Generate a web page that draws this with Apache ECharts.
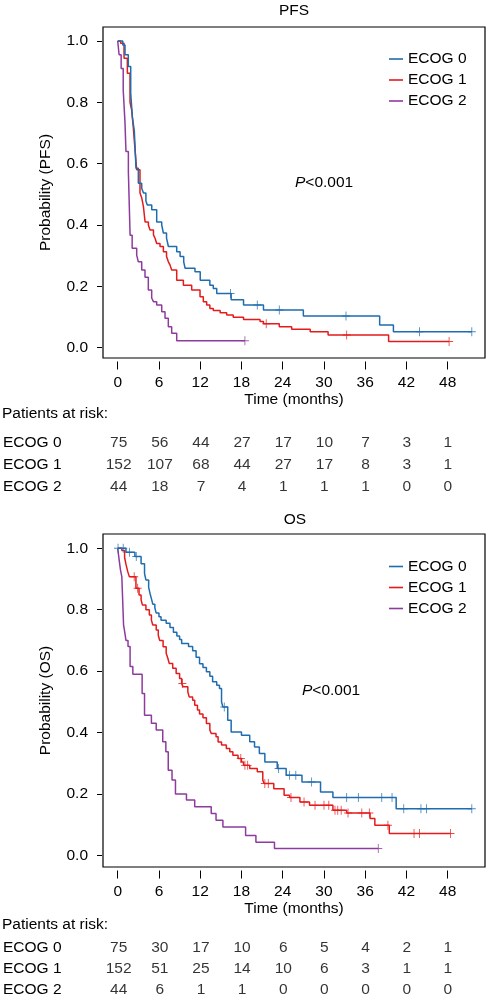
<!DOCTYPE html>
<html><head><meta charset="utf-8">
<script src="https://cdn.jsdelivr.net/npm/echarts@6/dist/echarts.min.js"></script>
<style>html,body{margin:0;padding:0;background:#fff}#c{width:488px;height:1000px}</style>
</head><body><div id="c"></div>
<script>
// ---------- data ----------
const groups = ['ECOG 0', 'ECOG 1', 'ECOG 2'];
const timeTicks = [0, 6, 12, 18, 24, 30, 36, 42, 48];
const probTicks = [0, 0.2, 0.4, 0.6, 0.8, 1.0];

// PFS Kaplan-Meier steps [time (months), survival]
const pfsEcog0 = [[0,1],[0.73,0.987],[1.06,0.955],[1.54,0.917],[1.89,0.83],[2.13,0.753],[2.42,0.705],[2.66,0.585],[3.0,0.536],[3.49,0.52],[3.75,0.504],[4.1,0.478],[4.3,0.465],[4.95,0.45],[5.67,0.41],[6.4,0.40],[6.64,0.374],[7.1,0.357],[7.37,0.33],[8.58,0.313],[9.07,0.297],[9.6,0.28],[9.8,0.259],[11.24,0.248],[12.0,0.22],[13.4,0.204],[13.9,0.193],[14.4,0.177],[16.5,0.156],[18.3,0.139],[21.2,0.123],[27.0,0.103],[38.1,0.074],[40.1,0.052],[51.5,0.052]];
const pfsEcog1 = [[0,1],[0.43,0.993],[0.92,0.944],[1.4,0.895],[1.79,0.80],[2.03,0.775],[2.27,0.717],[2.52,0.645],[2.76,0.58],[3.24,0.504],[3.5,0.488],[3.74,0.46],[3.98,0.41],[4.46,0.40],[4.7,0.384],[5.2,0.368],[5.43,0.357],[5.67,0.34],[6.15,0.33],[6.64,0.313],[7.1,0.297],[7.37,0.28],[7.6,0.27],[7.85,0.253],[8.58,0.22],[9.55,0.204],[10.76,0.188],[11.97,0.166],[12.45,0.15],[12.94,0.139],[13.4,0.128],[13.9,0.121],[14.9,0.114],[15.85,0.107],[16.8,0.099],[18.3,0.092],[20.7,0.085],[21.2,0.078],[23.5,0.068],[25.3,0.06],[28.0,0.052],[30.6,0.041],[39.4,0.02],[48.2,0.02]];
const pfsEcog2 = [[0,1],[0.2,0.955],[0.5,0.91],[0.8,0.84],[1.06,0.733],[1.2,0.64],[1.55,0.574],[1.8,0.367],[2.1,0.324],[2.76,0.302],[3.0,0.28],[3.49,0.253],[3.97,0.23],[4.45,0.188],[4.94,0.162],[5.2,0.15],[5.67,0.139],[6.4,0.117],[6.88,0.096],[7.36,0.068],[7.85,0.047],[8.58,0.023],[18.5,0.023]];
const pfsCensor0 = [16.4, 20.3, 23.5, 33.2, 43.9, 51.5];
const pfsCensor1 = [21.6, 33.3, 48.2];
const pfsCensor2 = [18.5];

// OS Kaplan-Meier steps
const osEcog0 = [[0,1],[1.2,0.987],[2.5,0.973],[3.4,0.95],[3.9,0.918],[4.1,0.897],[4.5,0.873],[4.7,0.853],[4.9,0.836],[5.1,0.818],[5.4,0.806],[5.6,0.789],[6.0,0.777],[6.3,0.766],[7.05,0.756],[7.6,0.742],[8.1,0.727],[8.6,0.714],[9.0,0.703],[9.3,0.69],[10.3,0.68],[10.9,0.666],[11.4,0.645],[11.9,0.624],[12.4,0.612],[12.9,0.598],[13.4,0.583],[13.8,0.565],[14.4,0.554],[14.8,0.543],[15.1,0.50],[15.3,0.483],[16.0,0.44],[16.5,0.402],[18.0,0.391],[19.2,0.37],[19.9,0.353],[20.6,0.332],[21.4,0.304],[23.2,0.283],[24.5,0.261],[26.8,0.239],[29.5,0.206],[31.3,0.188],[40.5,0.152],[51.5,0.152]];
const osEcog1 = [[0,1],[0.6,0.993],[1.0,0.97],[1.22,0.946],[1.46,0.924],[1.7,0.907],[2.65,0.87],[3.1,0.848],[3.4,0.832],[3.6,0.815],[4.1,0.80],[4.6,0.783],[4.9,0.766],[5.1,0.75],[5.6,0.734],[5.9,0.717],[6.1,0.70],[6.6,0.679],[7.05,0.658],[7.3,0.641],[7.5,0.625],[8.0,0.609],[8.5,0.592],[9.0,0.576],[9.3,0.56],[9.5,0.549],[10.2,0.532],[10.4,0.516],[10.9,0.505],[11.2,0.489],[11.6,0.473],[11.9,0.46],[12.4,0.448],[12.9,0.429],[13.4,0.408],[13.6,0.397],[14.3,0.386],[14.6,0.369],[15.1,0.359],[15.8,0.348],[16.3,0.337],[16.75,0.326],[17.5,0.315],[18.0,0.304],[18.3,0.293],[19.2,0.283],[20.3,0.272],[21.1,0.245],[21.3,0.234],[22.7,0.217],[24.2,0.196],[25.0,0.188],[26.5,0.174],[27.9,0.163],[31.3,0.147],[33.3,0.138],[36.7,0.12],[37.4,0.098],[39.5,0.071],[48.4,0.071]];
const osEcog2 = [[0,1],[0.25,0.955],[0.4,0.93],[0.6,0.907],[0.85,0.75],[1.0,0.73],[1.2,0.70],[1.5,0.68],[1.8,0.615],[2.2,0.59],[3.55,0.527],[3.9,0.456],[4.9,0.43],[5.6,0.408],[6.55,0.37],[7.0,0.337],[7.35,0.277],[7.9,0.245],[8.4,0.20],[10.0,0.18],[11.2,0.158],[13.6,0.136],[14.3,0.114],[15.3,0.092],[18.6,0.065],[20.1,0.043],[22.8,0.022],[37.9,0.022]];
const osCensor0 = [0.05, 0.8, 1.7, 2.7, 15.5, 23.4, 25.0, 25.9, 28.2, 33.3, 35.0, 38.4, 39.9, 41.6, 44.1, 44.9, 51.5];
const osCensor1 = [2.4, 2.9, 9.4, 17.9, 18.5, 18.9, 21.4, 21.9, 25.2, 27.1, 28.7, 30.0, 30.7, 31.6, 32.0, 32.5, 33.5, 35.5, 36.6, 39.3, 43.1, 43.9, 48.4];
const osCensor2 = [37.9];

// Patients at risk
const pfsRisk0 = [75, 56, 44, 27, 17, 10, 7, 3, 1];
const pfsRisk1 = [152, 107, 68, 44, 27, 17, 8, 3, 1];
const pfsRisk2 = [44, 18, 7, 4, 1, 1, 1, 0, 0];
const osRisk0 = [75, 30, 17, 10, 6, 5, 4, 2, 1];
const osRisk1 = [152, 51, 25, 14, 10, 6, 3, 1, 1];
const osRisk2 = [44, 6, 1, 1, 0, 0, 0, 0, 0];

// ---------- build ----------
const FONT = '"Liberation Sans", Arial, Helvetica, sans-serif';
const FS = 15.5;
const colors = ['#1f6cae', '#e41a1c', '#8e3b9e'];
const plusPath = 'path://M4.45,0H5.55V10H4.45Z M0,4.45H10V5.55H0Z';
const XMIN = -2.14, XMAX = 53.42;

function survAt(curve, t) {
  let s = curve[0][1];
  for (const p of curve) { if (p[0] <= t) s = p[1]; else break; }
  return s;
}

const chart = echarts.init(document.getElementById('c'), null, {renderer: 'canvas'});

function plotAxes(gi, ymin, ymax, yname, xMargin, xNameGap) {
  return {
    x: {
      gridIndex: gi, type: 'value', min: XMIN, max: XMAX, position: 'bottom', offset: 3.5,
      axisLine: {show: false, onZero: false},
      axisTick: {show: true, length: 8, customValues: timeTicks, lineStyle: {color: '#000', width: 1}},
      axisLabel: {customValues: timeTicks, margin: xMargin, fontSize: FS, color: '#000', fontFamily: FONT},
      splitLine: {show: false},
      name: 'Time (months)', nameLocation: 'middle', nameGap: xNameGap,
      nameTextStyle: {fontSize: FS, color: '#000', fontFamily: FONT}
    },
    y: {
      gridIndex: gi, type: 'value', min: ymin, max: ymax, offset: 1, position: 'left',
      axisLine: {show: false, onZero: false},
      axisTick: {show: true, length: 5, customValues: probTicks, lineStyle: {color: '#000', width: 1}},
      axisLabel: {customValues: probTicks, formatter: v => v.toFixed(1), margin: 14, fontSize: FS, color: '#000', fontFamily: FONT},
      splitLine: {show: false},
      name: yname, nameLocation: 'middle', nameGap: 48, nameRotate: 90,
      nameTextStyle: {fontSize: FS, color: '#000', fontFamily: FONT}
    }
  };
}
function tableAxes(gi) {
  return {
    x: {gridIndex: gi, type: 'value', min: XMIN, max: XMAX, show: false},
    y: {gridIndex: gi, type: 'category', data: groups, inverse: true,
        axisLine: {show: false, onZero: false}, axisTick: {show: false}, splitLine: {show: false},
        axisLabel: {align: 'left', margin: 101, fontSize: FS, color: '#000', fontFamily: FONT}}
  };
}

const pA = plotAxes(0, -0.0336, 1.0456, 'Probability (PFS)', 13, 28.5);
const pT = tableAxes(1);
const oA = plotAxes(2, -0.038, 1.0466, 'Probability (OS)', 13.5, 30.5);
const oT = tableAxes(3);

const series = [];
function addKM(curves, censors, ai) {
  curves.forEach((c, i) => {
    series.push({
      type: 'line', name: groups[i], xAxisIndex: ai, yAxisIndex: ai, data: c,
      step: 'end', showSymbol: false, symbol: 'none', silent: true,
      lineStyle: {width: 1.5, color: colors[i]}, itemStyle: {color: colors[i]}, z: 3 - i + 2
    });
    series.push({
      type: 'scatter', name: 'censor' + ai + '_' + i, xAxisIndex: ai, yAxisIndex: ai,
      data: censors[i].map(t => [t, survAt(c, t)]),
      symbol: plusPath, symbolSize: [8, 9], silent: true,
      itemStyle: {color: colors[i]}, z: 3 - i + 2
    });
  });
}
function addRisk(risks, ai) {
  const d = [];
  risks.forEach((r, g) => r.forEach((v, k) => d.push([timeTicks[k], groups[g], v])));
  series.push({
    type: 'scatter', name: 'risk' + ai, xAxisIndex: ai, yAxisIndex: ai, data: d,
    symbolSize: 1, itemStyle: {color: 'rgba(0,0,0,0)'}, silent: true,
    label: {show: true, position: 'inside', formatter: p => String(p.value[2]),
            fontSize: FS, color: '#000', fontFamily: FONT}
  });
}
addKM([pfsEcog0, pfsEcog1, pfsEcog2], [pfsCensor0, pfsCensor1, pfsCensor2], 0);
addRisk([pfsRisk0, pfsRisk1, pfsRisk2], 1);
addKM([osEcog0, osEcog1, osEcog2], [osCensor0, osCensor1, osCensor2], 2);
addRisk([osRisk0, osRisk1, osRisk2], 3);

function legendAt(top) {
  return {
    left: 389, top: top, padding: 0, orient: 'vertical', data: groups, icon: 'rect',
    itemWidth: 14, itemHeight: 1.6, itemGap: 5, selectedMode: false,
    textStyle: {fontSize: FS, color: '#000', fontFamily: FONT, lineHeight: 15.5}
  };
}

function txt(x, y, text, align) {
  return {
    type: 'text', x: x, y: y, silent: true,
    style: {text: text, font: FS + 'px ' + FONT, fill: '#000', align: align || 'left', verticalAlign: 'middle'}
  };
}
function pText(x, y) {
  return {
    type: 'text', x: x, y: y, silent: true,
    style: {text: '{i|P}<0.001', font: FS + 'px ' + FONT, fill: '#000', verticalAlign: 'middle',
            rich: {i: {fontStyle: 'italic', fontSize: FS, fontFamily: FONT, fill: '#000'}}}
  };
}

const gridStyle = {show: true, borderColor: '#000', borderWidth: 1.2, backgroundColor: 'rgba(0,0,0,0)'};
chart.setOption({
  animation: false,
  backgroundColor: '#fff',
  grid: [
    Object.assign({left: 103, top: 27, width: 382, height: 331}, gridStyle),
    {left: 103, top: 432, width: 382, height: 66},
    Object.assign({left: 103, top: 534, width: 382, height: 333}, gridStyle),
    {left: 103, top: 937.5, width: 382, height: 65}
  ],
  xAxis: [pA.x, pT.x, oA.x, oT.x],
  yAxis: [pA.y, pT.y, oA.y, oT.y],
  legend: [legendAt(51), legendAt(558.5)],
  series: series,
  graphic: [
    txt(294, 11, 'PFS', 'center'),
    txt(295, 520, 'OS', 'center'),
    txt(2, 414, 'Patients at risk:'),
    txt(2, 925, 'Patients at risk:'),
    pText(295, 182.7),
    pText(302, 690.7)
  ]
});
</script>
</body></html>
